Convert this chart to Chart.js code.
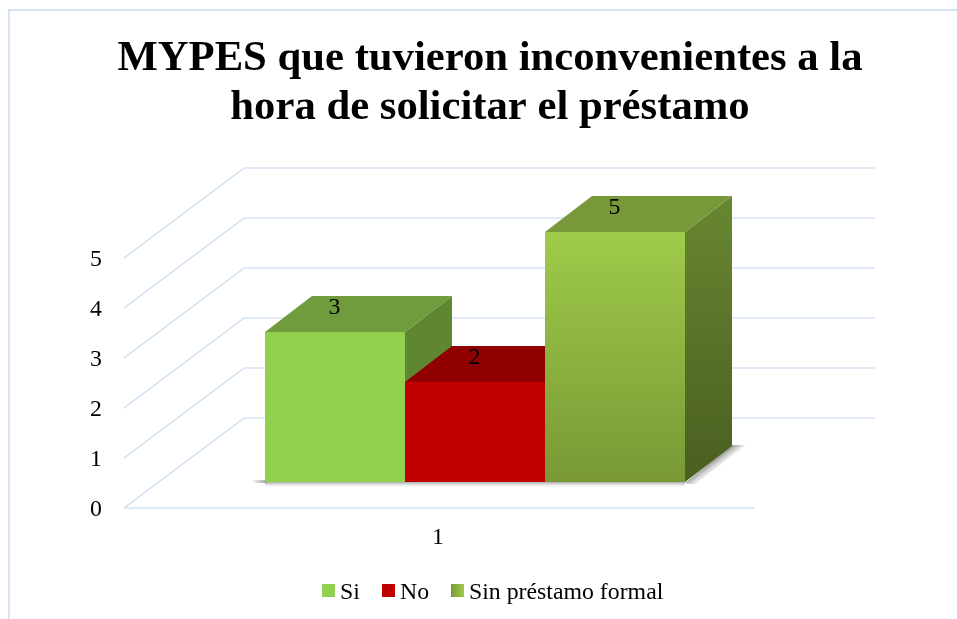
<!DOCTYPE html>
<html>
<head>
<meta charset="utf-8">
<style>
html,body{margin:0;padding:0;background:#fff;overflow:hidden}
canvas{display:block;filter:blur(0.35px)}
</style>
<script src="https://cdn.jsdelivr.net/npm/chart.js@4/dist/chart.umd.min.js"></script>
</head>
<body>
<canvas id="c" width="957" height="619"></canvas>
<script>
const categories = ['1'];
const seriesNames = ['Si', 'No', 'Sin préstamo formal'];
const siValues = [3];
const noValues = [2];
const sinValues = [5];
const titleLines = ['MYPES que tuvieron inconvenientes a la', 'hora de solicitar el préstamo'];
const yTicks = [0, 1, 2, 3, 4, 5];

const SERIF = '"Liberation Serif"';
const GRID = '#d7e4f4';
const TEXT_SIZE = 23.8;
const DEPTH_X = 47, DEPTH_Y = 36;   // bar depth
const WALL_X = 120, WALL_Y = 90;    // floor depth
const BAR_DX = 35.5, BAR_DY = -26;  // bars stand mid-way in the floor

const faces = [
  {front:'#92d050', top:'#709c3e', side:['#5f8732','#5f8732']},
  {front:'#c00000', top:'#900000', side:['#900000','#900000']},
  {front:['#9fcb4a','#789935'], top:'#77993a', side:['#688731','#4a5e20']}
];

const scene = {
  id: 'scene',
  afterLayout(chart){
    const s = chart.scales.y, f = faces[2].front;
    const g = chart.ctx.createLinearGradient(0, s.getPixelForValue(5), 0, s.getPixelForValue(0));
    g.addColorStop(0, f[0]); g.addColorStop(1, f[1]);
    chart.data.datasets[2].backgroundColor = g;
    // the title is centred over the frame's plot and wall together
    chart.titleBlock.left = 23;
    chart.titleBlock.right = 957;
  },
  beforeDraw(chart){
    const c = chart.ctx;
    c.save();
    c.fillStyle = '#fff'; c.fillRect(0,0,chart.width,chart.height);
    c.strokeStyle = GRID; c.lineWidth = 2;
    c.beginPath(); c.moveTo(9,chart.height); c.lineTo(9,10); c.lineTo(chart.width,10); c.stroke();
    c.restore();
  },
  beforeDatasetsDraw(chart){
    const c = chart.ctx, y = chart.scales.y, x = chart.scales.x;
    c.save();
    c.strokeStyle = GRID; c.lineWidth = 1.6;
    yTicks.forEach(v => {
      const p = y.getPixelForValue(v);
      c.beginPath();
      c.moveTo(x.left, p);
      c.lineTo(x.left + WALL_X, p - WALL_Y);
      c.lineTo(x.right + WALL_X, p - WALL_Y);
      c.stroke();
    });
    c.beginPath(); c.moveTo(x.left, y.bottom); c.lineTo(x.right, y.bottom); c.stroke();

    c.translate(BAR_DX, BAR_DY);
    const bars = chart.data.datasets.map((d,i) => chart.getDatasetMeta(i).data[0]);
    const lx = bars[0].x - bars[0].width/2, rx = bars[2].x + bars[2].width/2, base = bars[0].base;

    // floor shadows
    let g = c.createLinearGradient(lx-14,0,lx+2,0);
    g.addColorStop(0,'rgba(150,150,150,0)'); g.addColorStop(1,'rgba(150,150,150,.9)');
    c.fillStyle = g; c.fillRect(lx-14, base-2, 16, 3);
    g = c.createLinearGradient(0,base,0,base+5);
    g.addColorStop(0,'rgba(150,150,150,.8)'); g.addColorStop(1,'rgba(200,200,200,0)');
    c.fillStyle = g; c.fillRect(lx, base, rx-lx, 5);
    const mx = rx + DEPTH_X/2, my = base - DEPTH_Y/2;
    g = c.createLinearGradient(mx, my, mx+6.5, my+8.5);
    g.addColorStop(0,'rgba(120,120,120,.75)'); g.addColorStop(1,'rgba(200,200,200,0)');
    c.fillStyle = g;
    c.beginPath();
    c.moveTo(rx, base+1);
    c.lineTo(rx+DEPTH_X, base-DEPTH_Y-1);
    c.lineTo(rx+DEPTH_X+14, base-DEPTH_Y-1);
    c.lineTo(rx+9, base+3);
    c.closePath(); c.fill();

    // top and side faces, in dataset order
    bars.forEach((b,i) => {
      const l = b.x - b.width/2, r = b.x + b.width/2, t = b.y, bt = b.base, f = faces[i];
      const sg = c.createLinearGradient(0,t-DEPTH_Y,0,bt);
      sg.addColorStop(0,f.side[0]); sg.addColorStop(1,f.side[1]);
      c.fillStyle = sg;
      c.beginPath();
      c.moveTo(r,t); c.lineTo(r+DEPTH_X,t-DEPTH_Y); c.lineTo(r+DEPTH_X,bt-DEPTH_Y); c.lineTo(r,bt);
      c.closePath(); c.fill();
      c.fillStyle = f.top;
      c.beginPath();
      c.moveTo(l,t); c.lineTo(l+DEPTH_X,t-DEPTH_Y); c.lineTo(r+DEPTH_X,t-DEPTH_Y); c.lineTo(r,t);
      c.closePath(); c.fill();
    });
  },
  afterDatasetsDraw(chart){
    const c = chart.ctx;
    // value labels on the top faces
    c.fillStyle = '#000';
    c.font = TEXT_SIZE + 'px ' + SERIF;
    c.textAlign = 'center'; c.textBaseline = 'middle';
    chart.data.datasets.forEach((d,i) => {
      const b = chart.getDatasetMeta(i).data[0];
      c.fillText(String(d.data[0]), b.x - 0.5, b.y - 24);
    });
    c.restore();

    // legend
    const boxes = [322, 382, 451];
    c.save();
    c.font = TEXT_SIZE + 'px ' + SERIF;
    c.textAlign = 'left'; c.textBaseline = 'alphabetic';
    chart.data.datasets.forEach((d,i) => {
      const f = faces[i].front;
      if (typeof f === 'string') c.fillStyle = f;
      else {
        const g = c.createLinearGradient(boxes[i],0,boxes[i]+13,0);
        g.addColorStop(0,f[1]); g.addColorStop(1,f[0]);
        c.fillStyle = g;
      }
      c.fillRect(boxes[i], 584, 13, 13);
      c.fillStyle = '#000';
      c.fillText(d.label, boxes[i] + 18, 599);
    });
    c.restore();
  }
};

new Chart(document.getElementById('c'), {
  type: 'bar',
  data: {
    labels: categories,
    datasets: [
      {label: seriesNames[0], data: siValues, backgroundColor: faces[0].front},
      {label: seriesNames[1], data: noValues, backgroundColor: faces[1].front},
      {label: seriesNames[2], data: sinValues, backgroundColor: faces[2].front[0]}
    ]
  },
  plugins: [scene],
  options: {
    responsive: false,
    animation: false,
    layout: {padding: {left: 0, right: 202, top: 0, bottom: 0}},
    datasets: {bar: {categoryPercentage: 0.6656, barPercentage: 1, clip: false}},
    plugins: {
      legend: {display: false},
      tooltip: {enabled: false},
      title: {
        display: true,
        text: titleLines,
        color: '#000',
        font: {family: SERIF, size: 42.7, weight: 'bold', lineHeight: '49px'},
        padding: {top: 34, bottom: 126}
      }
    },
    scales: {
      x: {
        grid: {display: false},
        border: {display: false},
        ticks: {color: '#000', padding: 7, labelOffset: -1.5, maxRotation: 0, font: {family: SERIF, size: TEXT_SIZE}},
        afterFit(s){ s.height = 111; }
      },
      y: {
        min: 0, max: 5,
        grid: {display: false},
        border: {display: false},
        ticks: {color: '#000', stepSize: 1, padding: 14, labelOffset: 1.5, font: {family: SERIF, size: TEXT_SIZE}},
        afterFit(s){ s.width = 124; }
      }
    }
  }
});
</script>
</body>
</html>
